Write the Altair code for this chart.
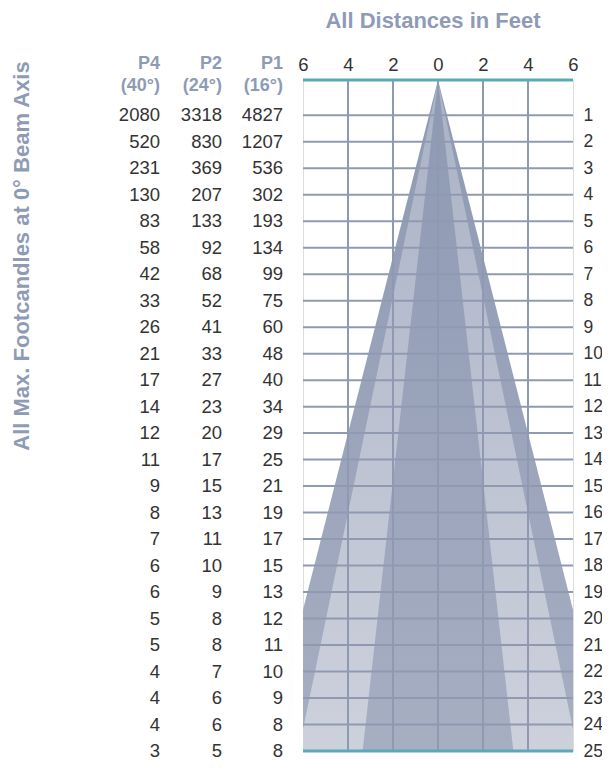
import altair as alt
import pandas as pd

# ---------------- data ----------------
distances = list(range(1, 26))
fc_p4 = [2080, 520, 231, 130, 83, 58, 42, 33, 26, 21, 17, 14, 12, 11, 9, 8, 7, 6, 6, 5, 5, 4, 4, 4, 3]
fc_p2 = [3318, 830, 369, 207, 133, 92, 68, 52, 41, 33, 27, 23, 20, 17, 15, 13, 11, 10, 9, 8, 8, 7, 6, 6, 5]
fc_p1 = [4827, 1207, 536, 302, 193, 134, 99, 75, 60, 48, 40, 34, 29, 25, 21, 19, 17, 15, 13, 12, 11, 10, 9, 8, 8]
beam_names = ["P4", "P2", "P1"]
beam_angles = ["(40°)", "(24°)", "(16°)"]
beam_halfwidth_25ft = [7.6, 6.2, 3.35]   # beam half-width (ft) at 25 ft
x_ticks = [-6, -4, -2, 0, 2, 4, 6]

# ---------------- layout / style ----------------
TOP = -0.33
MAXD = 25
W, H = 270, 671
COL_X = [-143, -81, -20]
GRAY_BLUE = "#8f9bb5"
GRID = "#8f9ab2"
TEAL = "#5aaab5"
TEXT = "#333333"
FONT = "Liberation Sans"
FS = 18.5

ys = alt.Scale(domain=[TOP, MAXD], nice=False, zero=False, reverse=True)
xs = alt.Scale(domain=[-6, 6], nice=False, zero=False)

xax = alt.Axis(orient="top", values=x_ticks, labelExpr="abs(datum.value)", domain=False,
               ticks=False, tickSize=0, grid=False, labelFlush=False, labelOverlap=False,
               labelFont=FONT, labelFontSize=FS, labelColor=TEXT, labelBaseline="middle",
               labelPadding=16, title=None)
yax = alt.Axis(orient="right", values=distances, domain=False, ticks=False, tickSize=0,
               grid=False, labelFlush=False, labelOverlap=False, labelFont=FONT,
               labelFontSize=17.5, labelColor=TEXT, labelPadding=10, labelAlign="left",
               labelBaseline="middle", title=None)


def grad(c_top, c_bot):
    return alt.Gradient(gradient="linear", x1=0, x2=0, y1=0, y2=1,
                        stops=[alt.GradientStop(color=c_top, offset=0),
                               alt.GradientStop(color=c_bot, offset=1)])


DARK = grad("#8e99b3", "#a6aec2")
LIGHT = grad("#aab2c6", "#cdd1dc")
cone_fill = {"P4": DARK, "P2": LIGHT, "P1": DARK}

rows = []
for name, hw in zip(beam_names, beam_halfwidth_25ft):
    for d in [TOP, MAXD]:
        f = (d - TOP) / (MAXD - TOP)
        rows.append({"beam": name, "d": d, "left": -hw * f, "right": hw * f})
cones = pd.DataFrame(rows)

Y = lambda f: alt.Y(f, scale=ys, axis=yax)
X = lambda f: alt.X(f, scale=xs, axis=xax)

layers = []
for name in beam_names:
    layers.append(
        alt.Chart(cones).transform_filter(alt.datum.beam == name)
        .mark_area(orient="horizontal", clip=True, color=cone_fill[name])
        .encode(y=Y("d:Q"), x=X("left:Q"), x2="right:Q")
    )

# grid
vgrid = pd.DataFrame({"x": x_ticks[1:-1]})
layers.append(alt.Chart(vgrid).mark_rule(color=GRID, strokeWidth=2)
              .encode(x=X("x:Q"), y=alt.value(0), y2=alt.value(H)))
hgrid = pd.DataFrame({"d": distances[:-1]})
layers.append(alt.Chart(hgrid).mark_rule(color=GRID, strokeWidth=2)
              .encode(y=Y("d:Q"), x=alt.value(0), x2=alt.value(W)))
edges = pd.DataFrame({"d": [TOP, MAXD]})
layers.append(alt.Chart(edges).mark_rule(color=TEAL, strokeWidth=3)
              .encode(y=Y("d:Q"), x=alt.value(0), x2=alt.value(W)))

# footcandle columns
fc = pd.DataFrame({"d": distances, "P4": fc_p4, "P2": fc_p2, "P1": fc_p1})
one = pd.DataFrame({"k": [0]})
for name, ang, cx in zip(beam_names, beam_angles, COL_X):
    layers.append(alt.Chart(fc).mark_text(align="right", baseline="middle", font=FONT,
                                          fontSize=FS, color=TEXT)
                  .encode(y=Y("d:Q"), x=alt.value(cx),
                          text=alt.Text(f"{name}:Q", format="d")))
    layers.append(alt.Chart(one).mark_text(align="right", baseline="middle", font=FONT,
                                           fontSize=18, fontWeight="bold", color=GRAY_BLUE, text=name)
                  .encode(x=alt.value(cx), y=alt.value(-16)))
    layers.append(alt.Chart(one).mark_text(align="right", baseline="middle", font=FONT,
                                           fontSize=18, fontWeight="bold", color=GRAY_BLUE, text=ang)
                  .encode(x=alt.value(cx), y=alt.value(6)))

# titles
layers.append(alt.Chart(one).mark_text(align="center", baseline="middle", font=FONT, fontSize=22,
                                       fontWeight="bold", color=GRAY_BLUE,
                                       text="All Distances in Feet")
              .encode(x=alt.value(130), y=alt.value(-59)))
layers.append(alt.Chart(one).mark_text(align="center", baseline="middle", font=FONT, fontSize=22,
                                       fontWeight="bold", color=GRAY_BLUE, angle=270,
                                       text="All Max. Footcandles at 0° Beam Axis")
              .encode(x=alt.value(-281), y=alt.value(176)))

chart = (alt.layer(*layers)
         .properties(width=W, height=H, autosize=alt.AutoSizeParams(type="none"),
                     padding={"left": 295, "top": 72, "right": 29, "bottom": 12})
         .configure_view(stroke=None)
         .configure(background="white"))

chart.save("out.html", embed_options={"renderer": "svg", "actions": False})
